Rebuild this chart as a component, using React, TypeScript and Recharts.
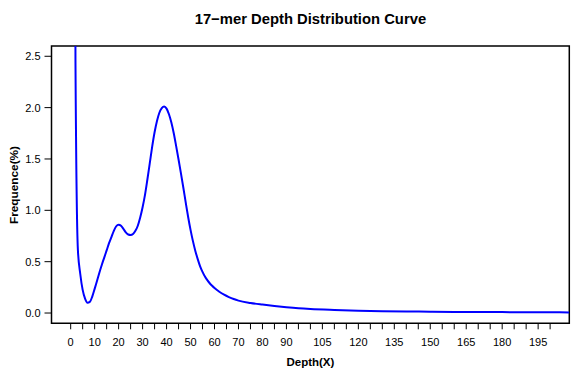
import type { ReactElement } from "react";
import { Line, LineChart, ReferenceArea, XAxis, YAxis } from "recharts";

// depth (X) and frequence (%)
const depths: number[] = [
  1, 2, 3, 4, 5, 6, 7, 8, 9, 10, 11, 12, 13, 14, 15, 16, 17, 18, 19, 20,
  21, 22, 23, 24, 25, 26, 27, 28, 29, 30, 31, 32, 33, 34, 35, 36, 37, 38, 39, 40,
  41, 42, 43, 44, 45, 46, 47, 48, 49, 50, 51, 52, 53, 54, 55, 56, 57, 58, 59, 60,
  62, 64, 66, 68, 70, 75, 80, 85, 90, 95, 100, 110, 120, 130, 140, 150, 160, 170,
  180, 190, 200, 208,
];
const freqs: number[] = [
  12, 2.45, 0.62, 0.38, 0.225, 0.14, 0.1, 0.108, 0.16, 0.235, 0.315, 0.395, 0.47, 0.54, 0.61, 0.68, 0.74, 0.8, 0.845, 0.86,
  0.85, 0.82, 0.785, 0.765, 0.76, 0.77, 0.8, 0.85, 0.93, 1.03, 1.15, 1.3, 1.46, 1.62, 1.76, 1.87, 1.95, 1.995, 2.01, 1.99,
  1.935, 1.855, 1.75, 1.625, 1.495, 1.36, 1.22, 1.075, 0.935, 0.81, 0.7, 0.605, 0.525, 0.455, 0.4, 0.355, 0.32, 0.29, 0.265, 0.243,
  0.207, 0.178, 0.155, 0.136, 0.121, 0.098, 0.082, 0.068, 0.056, 0.046, 0.039, 0.03, 0.023, 0.018, 0.015, 0.013, 0.011, 0.01,
  0.009, 0.008, 0.007, 0.006,
];

const xTicks: number[] = [
  0, 5, 10, 15, 20, 25, 30, 35, 40, 45, 50, 55, 60, 65, 70, 75, 80, 85, 90, 95, 100,
  105, 110, 115, 120, 125, 130, 135, 140, 145, 150, 155, 160, 165, 170, 175, 180, 185, 190, 195, 200,
];
// labels that survive R's overlap check
const xLabels: number[] = [0, 10, 20, 30, 40, 50, 60, 70, 80, 90, 105, 120, 135, 150, 165, 180, 195];
const yTicks: number[] = [0, 0.5, 1, 1.5, 2, 2.5];

const title = "17\u2212mer Depth Distribution Curve";
const xTitle = "Depth(X)";
const yTitle = "Frequence(%)";

const font = "'Liberation Sans', Arial, Helvetica, sans-serif";

type Row = { depth: number; freq: number };

export default function App(): ReactElement {
  const data: Row[] = depths.map((depth, i) => ({ depth, freq: freqs[i] ?? 0 }));

  return (
    <div style={{ position: "absolute", left: 0, top: 0, width: 582, height: 378, background: "#fff" }}>
      <LineChart
        width={582}
        height={378}
        data={data}
        margin={{ top: 46, right: 12.7, bottom: 4.7, left: 0 }}
        style={{ fontFamily: font }}
      >
        <XAxis
          dataKey="depth"
          type="number"
          domain={[-8, 208]}
          allowDataOverflow
          ticks={xTicks}
          interval={0}
          height={50}
          axisLine={false}
          tickSize={6}
          tickMargin={9}
          tickLine={{ stroke: "#000" }}
          tick={{ fill: "#000", fontSize: 11 }}
          tickFormatter={(v: number) => (xLabels.includes(v) ? String(v) : "")}
        />
        <YAxis
          type="number"
          domain={[-0.1, 2.6]}
          allowDataOverflow
          ticks={yTicks}
          interval={0}
          width={51.5}
          axisLine={false}
          tickSize={7}
          tickMargin={4}
          tickLine={{ stroke: "#000" }}
          tick={{ fill: "#000", fontSize: 11 }}
          tickFormatter={(v: number) => v.toFixed(1)}
        />
        <Line
          type="monotone"
          dataKey="freq"
          dot={false}
          isAnimationActive={false}
          stroke="#0000ff"
          strokeWidth={2}
        />
        <ReferenceArea
          x1={-8}
          x2={208}
          y1={-0.1}
          y2={2.6}
          fill="none"
          fillOpacity={0}
          stroke="#000"
          strokeWidth={1.5}
          ifOverflow="visible"
        />
      </LineChart>
      <svg
        width={582}
        height={378}
        style={{ position: "absolute", left: 0, top: 0, pointerEvents: "none" }}
      >
        <text x={310.4} y={23.5} textAnchor="middle" fontFamily={font} fontWeight="bold" fontSize={14.8} fill="#000">
          {title}
        </text>
        <text x={310.4} y={366} textAnchor="middle" fontFamily={font} fontWeight="bold" fontSize={11.5} fill="#000">
          {xTitle}
        </text>
        <text
          x={17.5}
          y={185}
          textAnchor="middle"
          transform="rotate(-90 17.5 185)"
          fontFamily={font}
          fontWeight="bold"
          fontSize={11.8}
          fill="#000"
        >
          {yTitle}
        </text>
      </svg>
    </div>
  );
}
